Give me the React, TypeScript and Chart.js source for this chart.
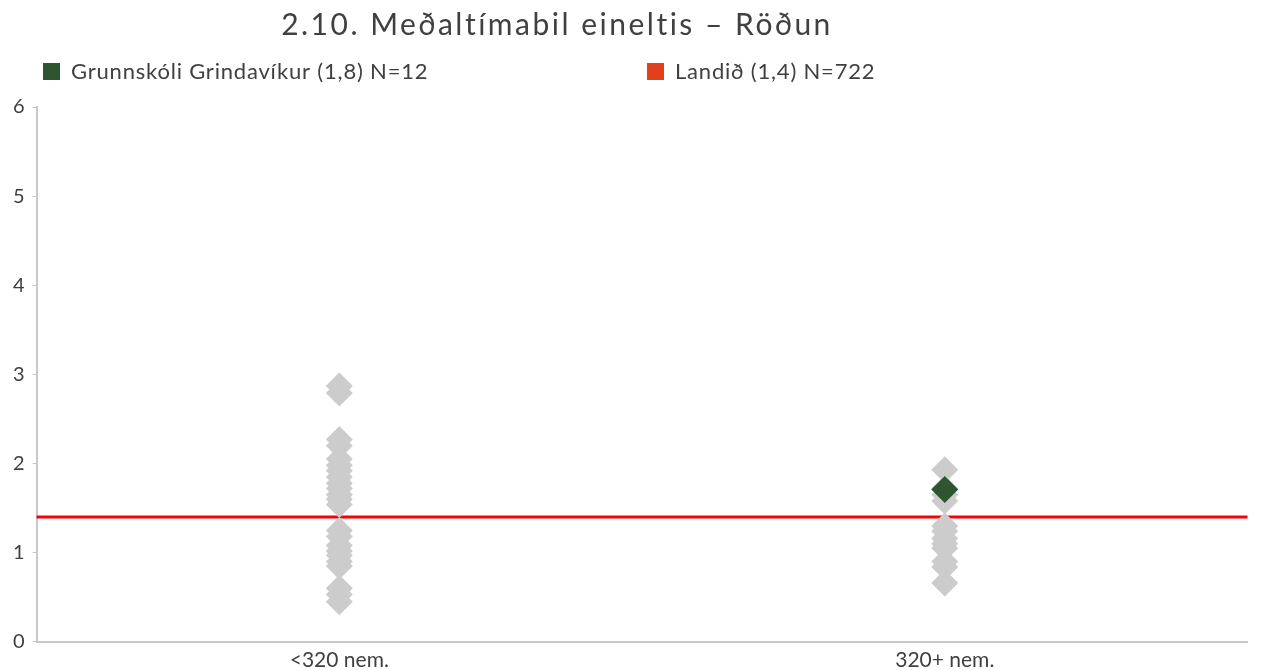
import React, { useEffect, useRef } from 'react';
import { Chart, registerables } from 'chart.js';

Chart.register(...registerables);

const TITLE = '2.10. Meðaltímabil eineltis – Röðun';
const categories = ['<320 nem.', '320+ nem.'];
const schoolLabel = 'Grunnskóli Grindavíkur (1,8) N=12';
const nationalLabel = 'Landið (1,4) N=722';
const nationalAverage = 1.4;
const schoolCategory = '320+ nem.';
const schoolValue = 1.71;
const smallSchools = [2.87, 2.79, 2.27, 2.2, 2.05, 1.98, 1.92, 1.85, 1.78, 1.72, 1.65, 1.6, 1.54, 1.25, 1.18, 1.08, 1.02, 0.97, 0.9, 0.85, 0.6, 0.53, 0.45];
const largeSchools = [1.93, 1.72, 1.65, 1.58, 1.3, 1.24, 1.16, 1.1, 1.05, 0.9, 0.84, 0.66];
const yMin = 0;
const yMax = 6;

const FONT = 'Lato, "Open Sans", sans-serif';
const GREY = '#cccccc';
const GREEN = '#2e5530';
const LEGEND_RED = '#e0401c';
const LINE_RED = '#ff0000';
const TEXT = '#404040';

const overlayPlugin = {
  id: 'overlay',
  beforeDatasetsDraw(chart: any) {
    const { ctx, chartArea, scales } = chart;
    const py = scales.y.getPixelForValue(nationalAverage);
    ctx.save();
    ctx.strokeStyle = LINE_RED;
    ctx.lineWidth = 3;
    ctx.beginPath();
    ctx.moveTo(chartArea.left, py);
    ctx.lineTo(chartArea.right, py);
    ctx.stroke();
    ctx.restore();
  },
  afterDraw(chart: any) {
    const { ctx } = chart;
    ctx.save();
    ctx.fillStyle = TEXT;
    ctx.textBaseline = 'alphabetic';
    ctx.textAlign = 'center';
    ctx.font = `30px ${FONT}`;
    (ctx as any).letterSpacing = '2.5px';
    ctx.fillText(TITLE, 557, 35);
    ctx.textAlign = 'left';
    ctx.font = `22px ${FONT}`;
    (ctx as any).letterSpacing = '0.8px';
    const items = [
      { x: 43, color: GREEN, text: schoolLabel },
      { x: 647, color: LEGEND_RED, text: nationalLabel },
    ];
    for (const it of items) {
      ctx.fillStyle = it.color;
      ctx.fillRect(it.x, 63, 17, 17);
      ctx.fillStyle = TEXT;
      ctx.fillText(it.text, it.x + 28, 79);
    }
    (ctx as any).letterSpacing = '0px';
    ctx.restore();
  },
};

export default function App() {
  const ref = useRef<HTMLCanvasElement | null>(null);
  useEffect(() => {
    document.body.style.margin = '0';
    const canvas = ref.current;
    if (!canvas) return;
    const chart = new Chart(canvas, {
      type: 'line',
      data: {
        labels: categories,
        datasets: [
          {
            label: schoolLabel,
            data: [{ x: schoolCategory, y: schoolValue }],
            showLine: false,
            backgroundColor: GREEN,
            borderColor: GREEN,
            pointStyle: 'rectRot',
            pointRadius: 13.5,
            pointBorderWidth: 0,
          },
          {
            label: 'Aðrir skólar',
            data: [
              ...smallSchools.map((v) => ({ x: categories[0], y: v })),
              ...largeSchools.map((v) => ({ x: categories[1], y: v })),
            ],
            showLine: false,
            backgroundColor: GREY,
            borderColor: GREY,
            pointStyle: 'rectRot',
            pointRadius: 13.5,
            pointBorderWidth: 0,
          },
        ] as any,
      },
      options: {
        animation: false,
        responsive: true,
        maintainAspectRatio: false,
        layout: { padding: { top: 107, left: 5, right: -2, bottom: -9 } },
        plugins: {
          legend: { display: false },
          tooltip: { enabled: false },
          title: { display: false },
        },
        scales: {
          x: {
            type: 'category',
            offset: true,
            grid: { display: false, drawTicks: false },
            border: { display: true, color: '#c8c8c8', width: 2 },
            ticks: { color: TEXT, font: { family: FONT, size: 21 }, padding: 6 },
          },
          y: {
            min: yMin,
            max: yMax,
            grid: { drawOnChartArea: false, drawTicks: true, tickLength: 4, color: '#c8c8c8' },
            border: { display: true, color: '#c8c8c8', width: 2 },
            ticks: { stepSize: 1, color: TEXT, font: { family: FONT, size: 20 }, padding: 8 },
          },
        },
      },
      plugins: [overlayPlugin],
    } as any);
    return () => chart.destroy();
  }, []);
  return (
    <div style={{ position: 'relative', width: 1261, height: 670 }}>
      <canvas ref={ref} />
    </div>
  );
}
